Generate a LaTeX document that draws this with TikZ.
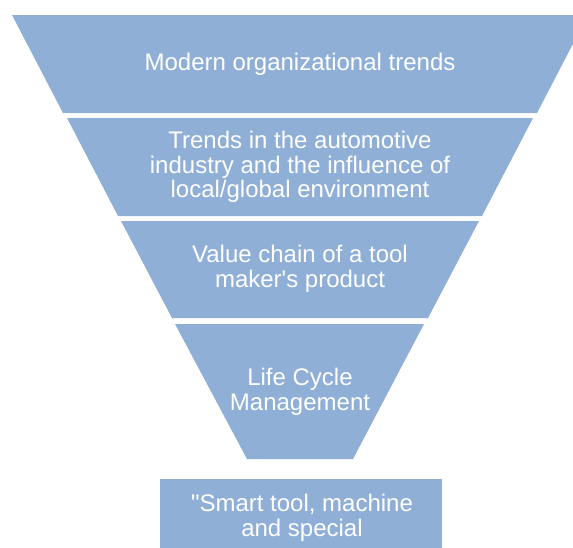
\documentclass[tikz,border=0pt]{standalone}
\usepackage{fontspec}
\setmainfont{Liberation Sans}[Ligatures=TeXOff]
\definecolor{layercolor}{RGB}{143,175,215}

\begin{document}
\begin{tikzpicture}[
    x=1pt, y=-1pt,
    layer/.style={fill=layercolor},
    caption/.style={text=white, font=\fontsize{24}{24.5}\selectfont, align=center, inner sep=0pt}
]
\useasboundingbox (0,0) rectangle (573,547);

% Funnel layers
\fill[layer] (12,15) -- (588,15) -- (537,113) -- (63,113) -- cycle;
\fill[layer] (67,118) -- (533,118) -- (482,216) -- (118,216) -- cycle;
\fill[layer] (121,221) -- (479,221) -- (428,318) -- (172,318) -- cycle;
\fill[layer] (175,324) -- (424,324) -- (353,459) -- (247,459) -- cycle;

% Result box
\fill[layer] (160,479) rectangle (442,560);

% Texts
\node[caption] (trends) at (300,64) {Modern organizational trends};
\node[caption] (automotive) at (300,167) {Trends in the automotive\\industry and the influence of\\local/global environment};
\node[caption] (valuechain) at (300,269) {Value chain of a tool\\maker's product};
\node[caption] (lifecycle) at (300,392) {Life Cycle\\Management};
\node[caption] (smarttool) at (302,518) {"Smart tool, machine\\and special};

\end{tikzpicture}
\end{document}
